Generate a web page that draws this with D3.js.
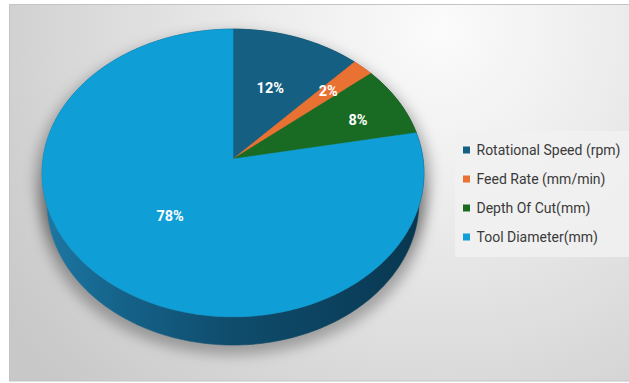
<!DOCTYPE html>
<html>
<head>
<meta charset="utf-8">
<script src="https://cdn.jsdelivr.net/npm/d3@7"></script>
<style>
  html, body { margin: 0; padding: 0; background: #ffffff; }
  svg { display: block; }
</style>
</head>
<body>
<svg id="chart" width="629" height="383"></svg>
<script>
// Machining parameter shares (percent)
const categories = ["Rotational Speed (rpm)", "Feed Rate (mm/min)", "Depth Of Cut(mm)", "Tool Diameter(mm)"];
const shares = [12, 2, 8, 78];
const labels = ["12%", "2%", "8%", "78%"];
const topColors = ["#156082", "#E97132", "#196B24", "#0F9ED5"];
const sideColors = ["#0d3f57", "#9c4a1f", "#10461a", "#0e4f70"];

const W = 629, H = 383;
const svg = d3.select("#chart");
const defs = svg.append("defs");

// ---- background panel ----
const bg = defs.append("radialGradient").attr("id", "bgGrad")
  .attr("gradientUnits", "userSpaceOnUse")
  .attr("cx", 440).attr("cy", 30).attr("r", 520);
bg.append("stop").attr("offset", 0).attr("stop-color", "#fbfbfb");
bg.append("stop").attr("offset", 0.3).attr("stop-color", "#eeeeee");
bg.append("stop").attr("offset", 1).attr("stop-color", "#c8c8c8");

svg.append("rect").attr("x", 9.5).attr("y", 4.5).attr("width", 625).attr("height", 376.5)
  .attr("fill", "url(#bgGrad)").attr("stroke", "#c4c4c4").attr("stroke-width", 1);

// ---- 3D pie projection ----
// disk of unit radius tilted toward the viewer, seen with mild perspective
const cx = 233, cy = 159;       // projected centre of the top face
const S = 190;                  // screen scale of the unit radius
const tilt = Math.asin(0.75);
const sinT = Math.sin(tilt), cosT = Math.cos(tilt);
const persp = 0.147;            // radius / camera distance
const depth = 0.242;            // thickness of the pie, in radii

function project(angle, rho, h) {
  const px = rho * Math.sin(angle), pz = rho * Math.cos(angle);
  const Y = pz * sinT - h * cosT;
  const Z = pz * cosT + h * sinT;
  const k = 1 + persp * Z;
  return [cx + S * px / k, cy - S * Y / k];
}

const pie = d3.pie().sort(null).value(d => d).startAngle(0).endAngle(2 * Math.PI);
const arcs = pie(shares);
const line = d3.line();

function rim(a0, a1, h) {
  const n = Math.max(4, Math.ceil((a1 - a0) / (Math.PI / 180)));
  return d3.range(n + 1).map(i => project(a0 + (a1 - a0) * i / n, 1, h));
}

// soft drop shadow under the body
const shadowF = defs.append("filter").attr("id", "shadowBlur")
  .attr("x", "-20%").attr("y", "-20%").attr("width", "140%").attr("height", "140%");
shadowF.append("feGaussianBlur").attr("stdDeviation", 6);

const shadowG = svg.append("g").attr("filter", "url(#shadowBlur)")
  .attr("transform", `translate(${cx},${cy + 6}) scale(1.035,1.02) translate(${-cx},${-cy})`);
shadowG.append("path").attr("d", line(rim(0, 2 * Math.PI, 0)) + "Z").attr("fill", "rgba(0,0,0,0.28)");
shadowG.append("path").attr("d", line(rim(0, 2 * Math.PI, depth)) + "Z").attr("fill", "rgba(0,0,0,0.28)");

// side wall shading, darker toward the right
const sideGrad = defs.append("linearGradient").attr("id", "sideGrad")
  .attr("gradientUnits", "userSpaceOnUse")
  .attr("x1", cx - S).attr("y1", 0).attr("x2", cx + S).attr("y2", 0);
[[0, "#1d78a3"], [0.2, "#15638a"], [0.5, "#0f4c6c"], [0.8, "#0b405c"], [1, "#083750"]]
  .forEach(([o, c]) => sideGrad.append("stop").attr("offset", o).attr("stop-color", c));

const sides = svg.append("g");
arcs.forEach((d, i) => {
  const top = rim(d.startAngle, d.endAngle, 0);
  const bot = rim(d.startAngle, d.endAngle, depth).reverse();
  sides.append("path")
    .attr("d", line(top.concat(bot)) + "Z")
    .attr("fill", i === 3 ? "url(#sideGrad)" : sideColors[i])
    .attr("stroke", i === 3 ? "url(#sideGrad)" : sideColors[i])
    .attr("stroke-width", 0.6);
});

// top faces
const faces = svg.append("g");
arcs.forEach((d, i) => {
  const pts = [project(0, 0, 0)].concat(rim(d.startAngle, d.endAngle, 0));
  faces.append("path")
    .attr("d", line(pts) + "Z")
    .attr("fill", topColors[i])
    .attr("stroke", topColors[i])
    .attr("stroke-width", 0.5)
    .attr("stroke-linejoin", "round");
});

// percentage labels
const labelG = svg.append("g");
arcs.forEach((d, i) => {
  const frac = d.value / d3.sum(shares);
  const rho = frac < 0.05 ? 0.72 : frac < 0.1 ? 0.73 : frac < 0.5 ? 0.56 : 0.5;
  let mid = (d.startAngle + d.endAngle) / 2;
  if (frac >= 0.05 && frac < 0.1) mid += 0.05;
  const [x, y] = project(mid, rho, 0);
  labelG.append("text")
    .attr("x", x).attr("y", y)
    .attr("text-anchor", "middle")
    .attr("dominant-baseline", "central")
    .attr("font-family", "Roboto, 'Open Sans', sans-serif")
    .attr("font-weight", "bold")
    .attr("font-size", 14.5)
    .attr("fill", "#ffffff")
    .text(labels[i]);
});

// ---- legend ----
const legend = svg.append("g");
legend.append("rect").attr("x", 455).attr("y", 131).attr("width", 175).attr("height", 126)
  .attr("fill", "#f1f1f1").attr("opacity", 0.85);

const rowY = d3.scalePoint().domain(categories).range([150, 237]);
categories.forEach((c, i) => {
  const y = rowY(c);
  legend.append("rect").attr("x", 463).attr("y", y - 3.5).attr("width", 7).attr("height", 7)
    .attr("fill", topColors[i]);
  legend.append("text").attr("x", 476.5).attr("y", y)
    .attr("dominant-baseline", "central")
    .attr("font-family", "Roboto, 'Open Sans', sans-serif")
    .attr("font-size", 14)
    .attr("fill", "#3a3a3a")
    .text(c);
});
</script>
</body>
</html>
